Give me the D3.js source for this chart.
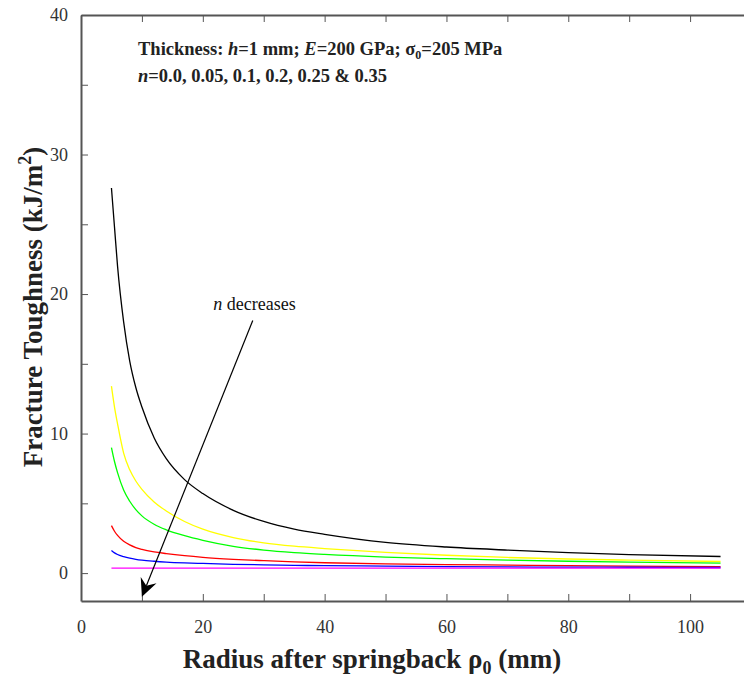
<!DOCTYPE html>
<html>
<head>
<meta charset="utf-8">
<script src="https://cdn.jsdelivr.net/npm/d3@7"></script>
<style>
  body { margin: 0; background: #fff; }
  svg { display: block; }
  text { font-family: "Liberation Serif", "Times New Roman", serif; }
</style>
</head>
<body>
<svg id="chart" width="744" height="681"></svg>
<script>
// Radius after springback (mm) at which each curve is sampled
const radius = [5, 5.5, 6, 7, 8, 9, 10, 12, 14, 17, 20, 25, 30, 35, 40, 50, 60, 70, 80, 90, 105];

// Fracture toughness (kJ/m^2), one array per hardening exponent n
const toughN035 = [27.6, 24.8, 22.0, 18.0, 15.2, 13.3, 11.9, 9.7, 8.2, 6.7, 5.7, 4.5, 3.7, 3.15, 2.78, 2.2, 1.87, 1.65, 1.46, 1.32, 1.19];
const toughN025 = [13.4, 11.9, 10.7, 8.6, 7.4, 6.6, 6.0, 5.1, 4.45, 3.7, 3.15, 2.55, 2.17, 1.93, 1.76, 1.48, 1.28, 1.12, 1.01, 0.93, 0.83];
const toughN020 = [9.0, 8.0, 7.2, 5.95, 5.15, 4.55, 4.1, 3.5, 3.1, 2.68, 2.35, 1.92, 1.65, 1.47, 1.34, 1.15, 1.03, 0.93, 0.85, 0.79, 0.72];
const toughN010 = [3.4, 3.0, 2.7, 2.28, 2.02, 1.83, 1.7, 1.52, 1.4, 1.25, 1.13, 0.99, 0.89, 0.8, 0.74, 0.66, 0.61, 0.57, 0.53, 0.5, 0.47];
const toughN005 = [1.62, 1.45, 1.33, 1.18, 1.07, 0.99, 0.93, 0.85, 0.79, 0.73, 0.69, 0.63, 0.59, 0.56, 0.53, 0.5, 0.46, 0.44, 0.43, 0.42, 0.40];
const toughN000 = [0.36, 0.36, 0.36, 0.36, 0.36, 0.36, 0.36, 0.36, 0.36, 0.36, 0.36, 0.36, 0.36, 0.36, 0.36, 0.36, 0.36, 0.36, 0.36, 0.36, 0.36];

const seriesNames = ["n=0.35", "n=0.25", "n=0.2", "n=0.1", "n=0.05", "n=0.0"];
const seriesValues = [toughN035, toughN025, toughN020, toughN010, toughN005, toughN000];
const seriesColors = ["#000000", "#ffff00", "#00ff00", "#ff0000", "#0000ff", "#ff00ff"];

// Axis ticks
const xTicks = [0, 10, 20, 30, 40, 50, 60, 70, 80, 90, 100, 110];
const xTickLabels = [0, 20, 40, 60, 80, 100];
const yTicks = [0, 5, 10, 15, 20, 25, 30, 35, 40];
const yTickLabels = [0, 10, 20, 30, 40];

// Annotation arrow: from below the label down to the tip (data units)
const arrowFrom = [28.2, 18.1];
const arrowTo = [10.0, -1.7];
const arrowLabelAt = [28.5, 18.85];

const svg = d3.select("#chart");
const plotLeft = 81, plotTop = 15, plotBottom = 601;
const serif = '"Liberation Serif", "Times New Roman", serif';

const x = d3.scaleLinear().domain([0, 110]).range([plotLeft, plotLeft + 670]);
const y = d3.scaleLinear().domain([-2, 40]).range([plotBottom, plotTop]);

const axisColor = "#555";
const labelColor = "#333";

function styleAxis(g) {
  g.attr("font-family", serif).attr("font-size", 18);
  g.select(".domain").attr("stroke", axisColor).attr("stroke-width", 2);
  g.selectAll(".tick line").attr("stroke", axisColor).attr("stroke-width", 1);
  g.selectAll(".tick text").attr("fill", labelColor);
}

// Bottom axis with labels
svg.append("g")
  .attr("transform", `translate(0,${plotBottom})`)
  .call(d3.axisBottom(x).tickValues(xTicks).tickSize(-7).tickSizeOuter(0).tickPadding(19)
    .tickFormat(d => xTickLabels.includes(d) ? d : ""))
  .call(styleAxis);

// Top axis, ticks only
svg.append("g")
  .attr("transform", `translate(0,${plotTop})`)
  .call(d3.axisTop(x).tickValues(xTicks).tickSize(-7).tickSizeOuter(0).tickFormat(""))
  .call(styleAxis);

// Left axis with labels
svg.append("g")
  .attr("transform", `translate(${plotLeft},0)`)
  .call(d3.axisLeft(y).tickValues(yTicks).tickSize(-7).tickSizeOuter(0).tickPadding(13)
    .tickFormat(d => yTickLabels.includes(d) ? d : ""))
  .call(styleAxis);

// Curves
const line = d3.line()
  .x(d => x(d[0]))
  .y(d => y(d[1]))
  .curve(d3.curveMonotoneX);

svg.append("g").selectAll("path")
  .data(seriesValues.map((vals, i) => ({ name: seriesNames[i], color: seriesColors[i], pts: radius.map((r, j) => [r, vals[j]]) })))
  .join("path")
  .attr("d", d => line(d.pts))
  .attr("fill", "none")
  .attr("stroke", d => d.color)
  .attr("stroke-width", 1.3);

// "n decreases" arrow
const ax0 = x(arrowFrom[0]), ay0 = y(arrowFrom[1]);
const ax1 = x(arrowTo[0]), ay1 = y(arrowTo[1]);
const len = Math.hypot(ax1 - ax0, ay1 - ay0);
const ux = (ax1 - ax0) / len, uy = (ay1 - ay0) / len;
const px = -uy, py = ux;
const headLen = 18, headHalf = 8.5, notch = 12;
svg.append("line")
  .attr("x1", ax0).attr("y1", ay0)
  .attr("x2", ax1 - ux * notch).attr("y2", ay1 - uy * notch)
  .attr("stroke", "#000").attr("stroke-width", 1.2);
svg.append("path")
  .attr("d", [
    [ax1, ay1],
    [ax1 - ux * headLen + px * headHalf, ay1 - uy * headLen + py * headHalf],
    [ax1 - ux * notch, ay1 - uy * notch],
    [ax1 - ux * headLen - px * headHalf, ay1 - uy * headLen - py * headHalf]
  ].map((p, i) => (i ? "L" : "M") + p[0] + "," + p[1]).join("") + "Z")
  .attr("fill", "#000");

const nLabel = svg.append("text")
  .attr("x", x(arrowLabelAt[0])).attr("y", y(arrowLabelAt[1]))
  .attr("text-anchor", "middle")
  .attr("font-family", serif)
  .attr("font-size", 18)
  .attr("fill", "#111");
nLabel.append("tspan").attr("font-style", "italic").text("n");
nLabel.append("tspan").text(" decreases");

// Parameter note
const note1 = svg.append("text").attr("x", 138).attr("y", 55)
  .attr("font-family", serif).attr("font-size", 18.5).attr("font-weight", "bold").attr("fill", "#222");
note1.append("tspan").text("Thickness: ");
note1.append("tspan").attr("font-style", "italic").text("h");
note1.append("tspan").text("=1 mm; ");
note1.append("tspan").attr("font-style", "italic").text("E");
note1.append("tspan").text("=200 GPa; σ");
note1.append("tspan").attr("dy", 4).attr("font-size", 12).text("0");
note1.append("tspan").attr("dy", -4).text("=205 MPa");

const note2 = svg.append("text").attr("x", 138).attr("y", 82)
  .attr("font-family", serif).attr("font-size", 18.5).attr("font-weight", "bold").attr("fill", "#222");
note2.append("tspan").attr("font-style", "italic").text("n");
note2.append("tspan").text("=0.0, 0.05, 0.1, 0.2, 0.25 & 0.35");

// Axis titles
const xTitle = svg.append("text")
  .attr("x", 372).attr("y", 668)
  .attr("text-anchor", "middle")
  .attr("font-family", serif).attr("font-size", 27).attr("font-weight", "bold").attr("fill", "#222");
xTitle.append("tspan").text("Radius after springback ρ");
xTitle.append("tspan").attr("dy", 6).attr("font-size", 18).text("0");
xTitle.append("tspan").attr("dy", -6).text(" (mm)");

const yTitle = svg.append("text")
  .attr("transform", "translate(42,307) rotate(-90)")
  .attr("text-anchor", "middle")
  .attr("font-family", serif).attr("font-size", 27).attr("font-weight", "bold").attr("fill", "#222");
yTitle.append("tspan").text("Fracture Toughness (kJ/m");
yTitle.append("tspan").attr("dy", -11).attr("font-size", 18).text("2");
yTitle.append("tspan").attr("dy", 11).text(")");
</script>
</body>
</html>
